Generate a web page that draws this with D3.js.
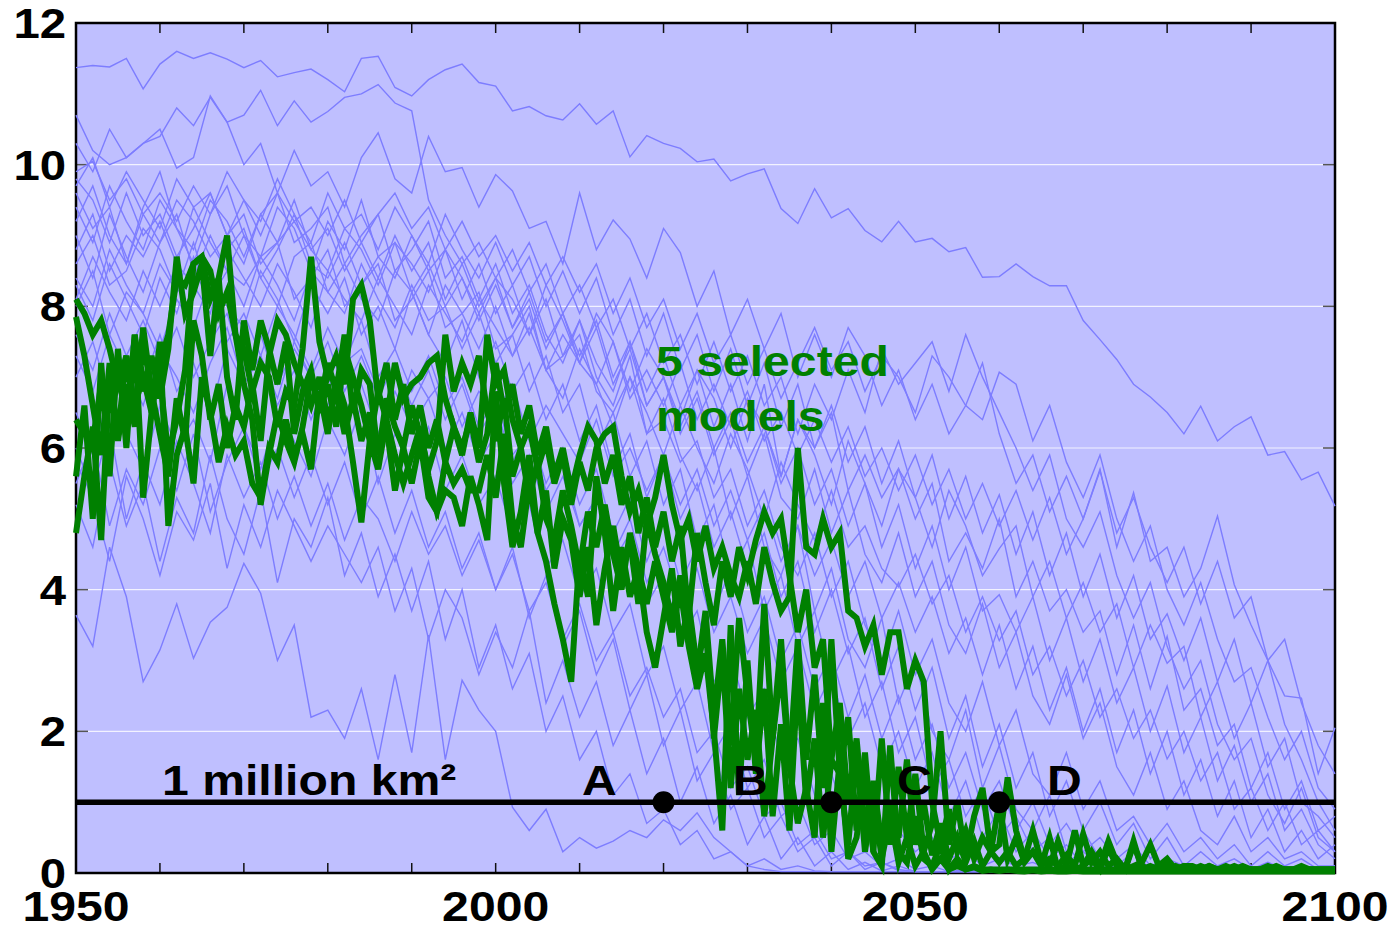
<!DOCTYPE html>
<html lang="en">
<head>
<meta charset="utf-8">
<title>September sea ice extent, model runs</title>
<script src="https://cdn.jsdelivr.net/npm/d3@7"></script>
<style>
  body { margin: 0; background: #ffffff; }
  svg text { font-family: "Liberation Sans", Arial, Helvetica, sans-serif; font-weight: bold; }
</style>
</head>
<body>
<svg id="chart" width="1396" height="927"></svg>
<script>
// years: blue runs every 2 years, green runs every year
var years2 = d3.range(1950, 2101, 2);
var years1 = d3.range(1950, 2101);

var xLabels = [1950, 2000, 2050, 2100];
var xMinor = d3.range(1950, 2101, 10);
var yTicks = [0, 2, 4, 6, 8, 10, 12];
var threshold = 1;
var markYears = [2020, 2040, 2060];
var markLetters = ["A", "B", "C", "D"];

// ---- all models (thin blue), values in million km2, 1950..2100 step 2 ----
var b00 = [11.37, 11.4, 11.38, 11.5, 11.07, 11.42, 11.6, 11.5, 11.58, 11.49,
  11.37, 11.47, 11.24, 11.3, 11.35, 11.2, 11.03, 11.5, 11.53, 11.09,
  10.97, 11.2, 11.34, 11.42, 11.16, 11.11, 10.76, 10.82, 10.69, 10.63,
  10.86, 10.57, 10.76, 10.11, 10.41, 10.3, 10.23, 10.04, 10.08, 9.77,
  9.87, 9.94, 9.38, 9.17, 9.66, 9.25, 9.38, 9.07, 8.91, 9.2,
  8.91, 8.96, 8.77, 8.83, 8.41, 8.42, 8.6, 8.42, 8.29, 8.29,
  7.8, 7.53, 7.25, 6.9, 6.72, 6.5, 6.2, 6.59, 6.1, 6.3,
  6.44, 5.9, 5.95, 5.55, 5.66, 5.18];
var b01 = [10.7, 10.2, 10.0, 10.1, 10.3, 10.4, 10.8, 10.55, 10.95, 10.6,
  10.7, 11.05, 10.55, 10.9, 10.6, 10.75, 10.95, 11.0, 11.13, 10.87,
  10.76, 9.5, 9.0, 8.6, 8.9, 8.4, 8.8, 8.2, 8.6, 7.9,
  8.3, 7.7, 8.1, 7.4, 7.9, 7.2, 7.6, 6.9, 7.5, 6.8,
  7.3, 6.6, 7.0, 6.2, 6.9, 6.4, 7.1, 6.5, 7.4, 6.9,
  7.2, 7.5, 6.8, 7.6, 7.0, 6.5, 6.0, 5.4, 5.9, 5.0,
  4.6, 5.1, 4.2, 3.6, 4.1, 3.2, 2.6, 3.0, 2.1, 1.6,
  1.9, 1.1, 0.7, 1.2, 0.5, 0.3];
var b02 = [10.3, 9.9, 10.5, 10.1, 10.3, 10.5, 9.95, 10.1, 10.97, 10.6,
  10.0, 10.3, 9.6, 10.2, 9.7, 9.9, 9.4, 10.1, 10.45, 9.8,
  9.6, 10.4, 9.9, 9.96, 9.4, 9.86, 9.63, 9.1, 9.2, 8.6,
  9.6, 8.8, 9.22, 8.95, 8.4, 9.1, 8.76, 8.0, 8.5, 7.6,
  8.1, 7.4, 7.9, 7.0, 7.6, 7.0, 7.7, 7.3, 6.6, 7.1,
  6.4, 6.9, 6.2, 6.6, 7.2, 6.2, 5.5, 5.9, 5.1, 5.6,
  5.0, 5.7, 4.6, 5.37, 4.4, 4.6, 3.9, 4.3, 5.04, 4.07,
  3.5, 3.0, 2.5, 2.47, 1.4, 2.05];
var b03 = [9.9, 10.05, 9.5, 9.8, 9.3, 9.6, 9.2, 9.7, 9.3, 9.9,
  9.5, 9.0, 9.6, 9.2, 9.4, 9.0, 9.5, 8.9, 9.3, 9.6,
  9.1, 9.4, 8.8, 9.2, 8.7, 9.0, 8.5, 8.9, 8.3, 8.7,
  8.2, 8.6, 7.9, 8.4, 7.7, 8.1, 7.4, 7.9, 7.2, 7.6,
  6.9, 7.4, 6.7, 7.2, 7.7, 7.1, 7.5, 6.8, 7.3, 7.0,
  6.5, 7.3, 7.0, 6.6, 6.4, 7.07, 6.9, 6.1, 6.6, 5.8,
  5.3, 5.9, 5.0, 4.4, 4.9, 4.0, 3.5, 4.1, 3.3, 2.7,
  2.9, 2.2, 1.6, 2.0, 1.2, 0.9];
var b04 = [9.6, 9.1, 9.4, 8.6, 9.3, 8.9, 9.5, 9.2, 8.7, 9.0,
  9.3, 8.6, 8.9, 9.2, 8.8, 8.5, 9.1, 8.8, 8.3, 8.9,
  8.6, 8.2, 8.8, 8.4, 7.9, 8.4, 8.1, 7.6, 8.3, 7.8,
  7.2, 7.9, 7.5, 6.8, 7.4, 7.0, 6.4, 7.1, 6.7, 6.0,
  6.7, 6.3, 5.6, 6.4, 5.9, 5.2, 6.1, 5.5, 4.9, 5.7,
  5.3, 4.6, 5.4, 4.9, 4.2, 4.58, 4.9, 3.9, 4.4, 3.6,
  4.1, 3.4, 3.8, 2.9, 3.5, 2.96, 3.2, 2.2, 2.7, 1.9,
  2.4, 1.5, 1.9, 1.0, 0.8, 0.5];
var b05 = [9.8, 9.5, 8.9, 9.6, 9.0, 9.3, 8.7, 9.1, 9.6, 9.0,
  8.6, 9.3, 8.9, 9.5, 8.8, 9.1, 8.5, 8.9, 8.4, 9.0,
  8.5, 8.9, 8.1, 8.6, 8.0, 8.4, 7.7, 8.2, 7.5, 7.9,
  7.2, 7.7, 6.9, 7.4, 6.6, 7.0, 6.3, 6.8, 6.0, 6.5,
  5.8, 6.3, 5.5, 6.0, 5.2, 5.7, 4.9, 5.5, 4.6, 5.2,
  4.3, 4.9, 4.0, 4.6, 3.7, 3.93, 3.4, 3.9, 3.0, 3.6,
  2.7, 3.3, 2.4, 2.9, 2.0, 2.64, 1.7, 2.2, 1.3, 1.8,
  1.0, 1.4, 0.6, 0.9, 0.4, 0.2];
var b06 = [9.0, 8.4, 9.3, 8.7, 8.2, 8.9, 9.3, 8.5, 8.1, 8.8,
  9.1, 8.4, 8.0, 8.7, 8.9, 8.2, 8.6, 8.1, 7.8, 8.5,
  8.2, 7.6, 8.3, 7.9, 7.4, 8.0, 7.3, 7.7, 7.1, 6.7,
  7.4, 6.9, 6.3, 7.0, 6.5, 5.9, 6.6, 6.0, 5.5, 6.2,
  5.7, 5.0, 5.8, 5.2, 4.7, 5.4, 4.6, 4.9, 4.3, 4.04,
  4.5, 3.8, 4.2, 3.4, 3.9, 3.28, 3.7, 2.8, 3.2, 2.5,
  3.0, 2.2, 2.6, 1.9, 2.3, 1.61, 2.0, 1.3, 1.7, 0.9,
  1.2, 0.6, 1.0, 0.4, 0.6, 0.3];
var b07 = [8.6, 9.0, 8.3, 8.5, 9.1, 8.8, 8.2, 8.4, 9.0, 8.5,
  8.3, 8.7, 8.9, 8.1, 8.4, 8.8, 8.0, 8.3, 8.6, 7.8,
  8.1, 8.5, 7.7, 7.9, 8.2, 7.4, 7.6, 8.0, 7.1, 7.3,
  7.6, 6.8, 6.5, 7.0, 6.2, 6.4, 5.8, 6.1, 5.3, 5.7,
  4.9, 5.4, 4.6, 4.2, 4.8, 3.9, 4.4, 3.5, 3.0, 3.7,
  2.8, 3.3, 2.4, 2.0, 2.7, 1.8, 2.3, 1.4, 1.1, 1.7,
  0.9, 1.3, 0.6, 0.8, 0.4, 0.7, 0.3, 0.5, 0.2, 0.4,
  0.1, 0.3, 0.1, 0.2, 0.05, 0.1];
var b08 = [8.3, 7.8, 8.6, 8.1, 7.6, 8.4, 7.9, 8.7, 8.2, 8.0,
  7.7, 8.5, 8.1, 7.5, 8.3, 7.9, 8.4, 7.6, 8.0, 7.4,
  8.2, 7.6, 7.2, 7.8, 7.0, 7.5, 6.8, 7.2, 6.4, 6.9,
  6.1, 6.6, 5.7, 6.2, 5.3, 5.9, 5.0, 5.5, 4.6, 5.1,
  4.3, 4.8, 3.9, 4.4, 3.4, 4.0, 3.1, 3.6, 2.6, 3.2,
  2.3, 2.9, 1.9, 2.5, 1.5, 2.1, 1.2, 1.7, 0.8, 1.3,
  0.6, 1.0, 0.4, 0.7, 0.2, 0.5, 0.1, 0.3, 0.1, 0.2,
  0.05, 0.15, 0.05, 0.1, 0.05, 0.05];
var b09 = [8.0, 8.5, 7.6, 8.2, 7.9, 7.4, 8.1, 7.7, 8.4, 7.5,
  7.9, 7.3, 8.0, 7.6, 7.1, 7.7, 7.2, 7.8, 7.0, 7.4,
  6.8, 7.3, 6.6, 7.0, 6.3, 6.7, 5.9, 6.2, 5.4, 5.8,
  4.9, 5.3, 4.4, 4.8, 3.8, 4.2, 3.3, 3.7, 2.7, 3.1,
  2.2, 2.6, 1.6, 1.9, 1.1, 1.4, 0.7, 0.9, 0.4, 0.6,
  0.3, 0.5, 0.2, 0.3, 0.1, 0.2, 0.1, 0.15, 0.05, 0.1,
  0.05, 0.1, 0.05, 0.05, 0.02, 0.05, 0.02, 0.03, 0.02, 0.02,
  0.02, 0.02, 0.01, 0.02, 0.01, 0.01];
var b10 = [7.6, 7.1, 7.9, 7.3, 7.8, 7.2, 7.7, 7.0, 7.5, 7.9,
  7.1, 7.6, 6.9, 7.4, 7.0, 7.5, 6.8, 7.3, 6.7, 7.2,
  6.6, 7.1, 6.4, 6.9, 6.2, 6.6, 5.8, 6.3, 5.5, 6.0,
  5.2, 5.7, 4.8, 5.3, 4.4, 5.0, 4.1, 4.6, 3.7, 4.3,
  3.4, 3.9, 3.0, 3.5, 2.6, 3.1, 2.2, 2.8, 1.9, 2.5,
  1.6, 2.1, 1.2, 1.7, 0.9, 1.3, 0.6, 1.0, 0.4, 0.7,
  0.3, 0.5, 0.2, 0.4, 0.1, 0.2, 0.1, 0.1, 0.05, 0.1,
  0.05, 0.05, 0.02, 0.05, 0.02, 0.02];
var b11 = [6.5, 5.9, 6.8, 6.2, 5.7, 6.6, 6.0, 6.4, 5.8, 6.9,
  6.3, 5.7, 6.5, 6.1, 5.6, 6.4, 5.9, 6.6, 5.5, 6.2,
  5.8, 6.3, 5.4, 5.9, 5.2, 5.6, 4.8, 5.2, 4.3, 4.7,
  3.9, 4.3, 3.4, 3.8, 2.8, 3.2, 2.3, 2.7, 1.7, 2.1,
  1.2, 1.6, 0.8, 1.0, 0.4, 0.6, 0.2, 0.3, 0.1, 0.2,
  0.05, 0.1, 0.02, 0.05, 0.02, 0.02, 0.03, 0.01, 0.02, 0.01,
  0.01, 0.01, 0.01, 0.01, 0.01, 0.01, 0.01, 0.01, 0.01, 0.01,
  0.01, 0.01, 0.01, 0.01, 0.01, 0.01];
var b12 = [3.64, 3.2, 4.6, 3.9, 2.7, 3.15, 3.8, 3.03, 3.54, 3.75,
  4.37, 3.95, 3.0, 3.5, 2.2, 2.3, 1.9, 2.6, 1.6, 2.8,
  1.7, 3.36, 1.6, 2.72, 2.3, 2.0, 0.93, 0.6, 0.9, 0.3,
  0.5, 0.35, 0.45, 0.6, 0.5, 0.75, 0.6, 0.85, 0.5, 0.3,
  0.1, 0.05, 0.02, 0.02, 0.02, 0.02, 0.02, 0.02, 0.02, 0.02,
  0.02, 0.02, 0.02, 0.02, 0.02, 0.02, 0.02, 0.02, 0.02, 0.02,
  0.02, 0.02, 0.02, 0.02, 0.02, 0.02, 0.02, 0.02, 0.02, 0.02,
  0.02, 0.02, 0.02, 0.02, 0.02, 0.02];
var b13 = [5.2, 4.6, 5.8, 4.9, 5.5, 4.4, 5.3, 4.8, 5.9, 5.0,
  4.5, 5.4, 4.1, 5.0, 4.6, 5.3, 4.2, 4.8, 3.9, 4.5,
  3.7, 4.4, 3.3, 4.0, 2.9, 3.5, 2.6, 3.1, 2.0, 2.5,
  1.6, 2.0, 1.1, 1.4, 0.7, 0.9, 0.4, 0.6, 0.2, 0.3,
  0.1, 0.2, 0.05, 0.1, 0.03, 0.02, 0.02, 0.02, 0.02, 0.02,
  0.02, 0.02, 0.02, 0.02, 0.02, 0.02, 0.02, 0.02, 0.02, 0.02,
  0.02, 0.02, 0.02, 0.02, 0.02, 0.02, 0.02, 0.02, 0.02, 0.02,
  0.02, 0.02, 0.02, 0.02, 0.02, 0.02];
var b14 = [5.8, 5.3, 4.4, 5.6, 5.0, 4.2, 5.1, 4.7, 5.5, 4.3,
  5.2, 4.6, 5.4, 4.9, 4.4, 4.9, 4.5, 4.1, 4.6, 3.7,
  4.3, 3.3, 4.0, 3.6, 2.8, 3.4, 2.9, 3.7, 2.4, 3.0,
  2.2, 2.7, 1.8, 2.3, 1.4, 1.9, 1.0, 1.5, 0.7, 1.1,
  0.4, 0.8, 0.2, 0.5, 0.1, 0.3, 0.05, 0.15, 0.03, 0.1,
  0.02, 0.02, 0.02, 0.02, 0.02, 0.02, 0.02, 0.02, 0.02, 0.02,
  0.02, 0.02, 0.02, 0.02, 0.02, 0.02, 0.02, 0.02, 0.02, 0.02,
  0.02, 0.02, 0.02, 0.02, 0.02, 0.02];
var b15 = [7.0, 7.5, 6.7, 7.3, 6.9, 7.6, 6.8, 7.2, 6.5, 7.4,
  6.9, 7.3, 6.6, 7.1, 6.4, 7.0, 6.5, 6.9, 6.2, 6.8,
  6.3, 6.7, 6.0, 6.5, 5.8, 6.2, 5.5, 5.9, 5.1, 5.6,
  4.9, 5.3, 4.5, 5.0, 4.1, 4.6, 3.8, 4.3, 3.4, 3.9,
  3.1, 3.6, 2.7, 3.2, 2.3, 2.8, 1.9, 2.4, 1.5, 2.0,
  1.2, 1.7, 0.8, 1.3, 0.5, 0.9, 0.3, 0.6, 0.2, 0.4,
  0.1, 0.2, 0.05, 0.1, 0.03, 0.02, 0.02, 0.02, 0.02, 0.02,
  0.02, 0.02, 0.02, 0.02, 0.02, 0.02];
var b16 = [8.8, 9.3, 8.5, 9.0, 8.7, 9.2, 8.6, 9.4, 8.9, 8.5,
  9.0, 8.4, 8.8, 9.3, 8.6, 8.4, 8.9, 8.3, 8.7, 8.9,
  8.2, 8.6, 8.0, 8.4, 7.8, 8.3, 7.7, 8.1, 7.4, 7.9,
  7.3, 7.8, 7.0, 7.5, 6.8, 7.3, 6.6, 7.1, 6.3, 6.9,
  6.1, 6.9, 5.6, 6.4, 6.0, 6.5, 5.4, 5.9, 5.3, 5.71,
  5.0, 5.5, 4.4, 4.8, 4.3, 5.0, 3.9, 4.4, 3.7, 4.0,
  3.4, 3.7, 2.8, 3.5, 2.6, 3.34, 2.3, 2.6, 1.8, 2.1,
  1.2, 1.7, 0.9, 1.3, 0.6, 0.8];
var b17 = [9.4, 8.9, 9.7, 9.2, 8.8, 9.5, 9.1, 8.6, 9.3, 9.7,
  9.0, 8.7, 9.4, 9.1, 8.5, 9.2, 8.8, 9.5, 8.7, 8.4,
  9.0, 8.5, 8.8, 8.1, 8.6, 7.9, 8.3, 7.6, 8.1, 7.3,
  7.8, 7.2, 6.8, 7.5, 6.6, 7.0, 6.2, 6.7, 5.9, 6.4,
  5.6, 6.2, 5.3, 5.0, 5.7, 4.8, 5.4, 4.5, 4.1, 4.8,
  3.9, 4.4, 3.5, 3.1, 3.8, 2.9, 3.4, 2.5, 2.1, 2.8,
  1.9, 2.4, 1.5, 1.1, 1.7, 0.9, 1.3, 0.6, 0.4, 0.8,
  0.3, 0.5, 0.2, 0.3, 0.1, 0.1];
var b18 = [8.1, 8.7, 8.2, 7.8, 8.5, 8.0, 8.6, 8.3, 7.9, 8.8,
  8.4, 8.0, 8.6, 8.2, 7.7, 8.5, 8.1, 7.8, 8.4, 8.0,
  7.6, 8.3, 7.9, 7.5, 8.1, 7.7, 7.3, 7.9, 7.1, 7.6,
  7.2, 6.9, 7.5, 6.7, 7.1, 6.6, 7.2, 6.4, 6.9, 6.3,
  6.8, 6.1, 6.5, 5.9, 6.4, 5.8, 6.3, 5.6, 6.0, 5.4,
  5.9, 5.2, 5.7, 5.0, 5.5, 4.9, 5.4, 4.7, 5.3, 4.5,
  5.0, 5.68, 4.8, 5.3, 4.6, 4.1, 4.6, 3.8, 4.4, 3.6,
  3.9, 3.0, 3.3, 2.4, 1.8, 1.4];
var b19 = [9.2, 9.7, 9.0, 8.6, 9.4, 9.9, 9.1, 8.8, 9.5, 9.2,
  8.7, 9.3, 9.6, 8.9, 9.1, 9.4, 8.6, 9.0, 9.3, 8.5,
  8.8, 9.2, 8.4, 8.7, 8.1, 8.6, 7.9, 8.3, 7.6, 7.2,
  7.8, 7.0, 6.6, 7.3, 6.2, 6.7, 5.9, 5.4, 6.0, 5.0,
  5.6, 4.6, 4.2, 4.9, 3.7, 4.3, 3.3, 2.9, 3.6, 2.4,
  3.0, 2.0, 1.6, 2.3, 1.2, 1.8, 0.9, 0.6, 1.1, 0.3,
  0.6, 0.2, 0.1, 0.3, 0.05, 0.1, 0.05, 0.02, 0.05, 0.02,
  0.02, 0.02, 0.01, 0.02, 0.01, 0.01];
var b20 = [6.0, 5.4, 6.3, 5.0, 5.8, 5.2, 6.1, 5.5, 4.8, 5.9,
  5.3, 5.8, 5.0, 5.6, 4.9, 5.5, 4.7, 5.3, 5.0, 4.4,
  5.1, 4.5, 4.9, 4.2, 4.7, 4.0, 4.5, 3.7, 4.1, 3.3,
  3.8, 3.0, 3.4, 2.5, 2.9, 2.2, 2.6, 1.7, 2.0, 1.2,
  1.5, 0.8, 1.0, 0.4, 0.6, 0.2, 0.3, 0.1, 0.15, 0.05,
  0.02, 0.02, 0.02, 0.02, 0.02, 0.02, 0.02, 0.02, 0.02, 0.02,
  0.02, 0.02, 0.02, 0.02, 0.02, 0.02, 0.02, 0.02, 0.02, 0.02,
  0.02, 0.02, 0.02, 0.02, 0.02, 0.02];
var b21 = [7.3, 6.8, 7.6, 7.1, 6.6, 7.4, 7.0, 6.5, 7.2, 7.7,
  6.9, 7.3, 6.7, 7.5, 7.0, 6.6, 7.2, 7.4, 6.8, 6.4,
  7.1, 6.7, 7.0, 6.3, 6.8, 6.5, 6.9, 6.1, 6.6, 6.2,
  5.8, 6.4, 5.6, 6.0, 5.4, 5.9, 5.2, 5.7, 4.9, 5.4,
  4.7, 5.2, 4.4, 4.9, 4.2, 4.7, 3.9, 4.4, 3.6, 4.1,
  3.4, 3.9, 3.1, 3.6, 2.8, 3.5, 2.6, 3.2, 2.3, 2.9,
  2.0, 2.6, 1.7, 2.3, 1.4, 2.0, 1.1, 1.6, 0.8, 1.3,
  0.5, 0.9, 0.3, 0.6, 0.2, 0.4];
var b22 = [8.4, 8.0, 8.8, 8.3, 7.9, 8.6, 8.2, 8.9, 8.1, 8.5,
  8.0, 8.7, 8.3, 7.8, 8.5, 8.2, 7.9, 8.6, 8.1, 7.7,
  8.3, 7.8, 8.0, 7.4, 7.9, 7.2, 7.6, 6.8, 7.3, 6.5,
  6.9, 6.0, 6.5, 5.6, 6.1, 5.2, 5.7, 4.7, 5.2, 4.2,
  4.7, 3.7, 4.2, 3.2, 3.7, 2.7, 3.2, 2.2, 2.7, 1.7,
  2.2, 1.2, 1.6, 0.8, 1.2, 0.5, 0.8, 0.3, 0.5, 0.15,
  0.3, 0.1, 0.2, 0.05, 0.1, 0.02, 0.02, 0.02, 0.02, 0.02,
  0.02, 0.02, 0.02, 0.02, 0.02, 0.02];
var b23 = [9.7, 10.1, 9.4, 9.9, 9.5, 9.1, 9.8, 9.4, 9.6, 9.0,
  9.5, 9.2, 9.8, 9.3, 8.9, 9.6, 9.1, 9.3, 8.8, 9.4,
  9.0, 8.6, 9.3, 8.8, 8.4, 8.9, 8.3, 8.7, 8.0, 8.5,
  7.9, 8.4, 7.6, 8.1, 7.3, 7.9, 7.1, 7.6, 6.8, 7.4,
  6.6, 7.2, 6.3, 6.9, 6.0, 6.6, 5.8, 6.3, 5.5, 6.1,
  5.3, 5.9, 5.0, 5.6, 4.8, 5.34, 4.5, 5.1, 4.2, 4.8,
  3.9, 4.5, 3.6, 4.2, 3.3, 3.66, 3.0, 3.6, 2.7, 3.3,
  2.4, 3.0, 2.1, 1.6, 1.0, 0.6];
var b24 = [5.5, 6.1, 4.9, 5.7, 5.2, 6.0, 5.4, 6.2, 5.1, 5.8,
  6.3, 5.5, 6.0, 5.3, 5.9, 5.2, 5.8, 5.0, 5.6, 4.8,
  5.4, 4.6, 5.1, 4.3, 4.8, 4.0, 4.6, 3.6, 4.2, 3.2,
  3.7, 2.8, 3.3, 2.3, 2.8, 1.8, 2.3, 1.3, 1.7, 0.9,
  1.2, 0.5, 0.8, 0.3, 0.5, 0.1, 0.3, 0.05, 0.15, 0.03,
  0.02, 0.02, 0.02, 0.02, 0.02, 0.02, 0.02, 0.02, 0.02, 0.02,
  0.02, 0.02, 0.02, 0.02, 0.02, 0.02, 0.02, 0.02, 0.02, 0.02,
  0.02, 0.02, 0.02, 0.02, 0.02, 0.02];

var blueRuns = [b00, b01, b02, b03, b04, b05, b06, b07, b08, b09, b10, b11, b12,
  b13, b14, b15, b16, b17, b18, b19, b20, b21, b22, b23, b24];

// ---- 5 selected models (thick green), 1950..2100 every year ----
var g1 = [8.1, 7.9, 7.6, 7.8, 7.4, 6.9, 7.3, 6.6, 7.0, 6.5,
  7.2, 7.6, 8.4, 8.3, 8.6, 8.7, 8.5, 7.9, 8.2, 7.6,
  7.4, 6.8, 7.2, 7.0, 6.3, 6.8, 6.6, 7.4, 8.7, 7.5,
  7.0, 7.3, 6.9, 8.1, 8.3, 7.8, 6.7, 7.2, 6.4, 6.9,
  6.2, 6.6, 6.0, 6.4, 5.8, 6.3, 5.9, 6.5, 6.0, 7.6,
  6.9, 7.1, 6.4, 6.0, 6.3, 5.7, 6.1, 5.5, 5.9, 5.2,
  5.8, 5.4, 6.0, 6.2, 6.3, 5.6, 5.1, 5.4, 4.9, 5.3,
  5.9, 5.2, 4.7, 5.0, 4.4, 4.9, 4.3, 4.6, 4.2, 3.9,
  4.4, 3.8, 4.6, 4.1, 3.7, 3.9, 6.0, 4.6, 4.5, 5.0,
  4.6, 4.8, 3.7, 3.6, 3.2, 3.5, 2.8, 3.4, 3.4, 2.6,
  3.0, 2.7, 1.0, 0.4, 0.9, 0.3, 0.6, 0.2, 0.5, 0.3,
  0.4, 1.35, 0.6, 0.2, 0.3, 0.15, 0.2, 0.1, 0.25, 0.1,
  0.55, 0.15, 0.3, 0.1, 0.2, 0.05, 0.1, 0.15, 0.4, 0.1,
  0.2, 0.05, 0.1, 0.1, 0.05, 0.1, 0.05, 0.05, 0.1, 0.05,
  0.05, 0.05, 0.1, 0.05, 0.05, 0.05, 0.1, 0.05, 0.05, 0.05,
  0.05];
var g2 = [7.85, 7.3, 6.6, 5.9, 7.2, 6.1, 6.9, 6.3, 7.5, 6.8,
  6.2, 5.6, 6.7, 6.1, 7.8, 7.3, 6.4, 6.9, 6.0, 6.6,
  6.3, 6.9, 6.1, 7.3, 7.8, 7.6, 7.2, 6.9, 6.6, 7.0,
  6.4, 6.8, 6.2, 6.7, 6.1, 6.5, 5.9, 6.7, 6.3, 6.0,
  6.6, 6.2, 5.7, 6.1, 7.6, 6.8, 7.2, 6.9, 7.3, 6.5,
  6.1, 6.7, 5.6, 6.0, 5.3, 5.8, 5.0, 4.7, 5.4, 4.9,
  4.3, 5.1, 4.6, 5.2, 4.5, 4.0, 4.8, 4.3, 3.8, 4.4,
  3.9, 3.4, 4.0, 3.2, 2.6, 3.1, 2.0, 0.6, 3.5, 1.1,
  3.0, 1.4, 2.6, 0.8, 2.1, 0.6, 2.8, 1.0, 1.9, 0.5,
  1.6, 1.4, 0.4, 1.7, 0.3, 1.1, 0.2, 0.8, 0.15, 0.5,
  0.1, 0.3, 0.05, 0.2, 0.05, 0.1, 0.05, 0.08, 0.03, 0.05,
  0.03, 0.05, 0.03, 0.02, 0.04, 0.02, 0.03, 0.02, 0.02, 0.03,
  0.02, 0.02, 0.02, 0.02, 0.02, 0.02, 0.02, 0.02, 0.02, 0.02,
  0.02, 0.02, 0.02, 0.02, 0.02, 0.02, 0.02, 0.02, 0.02, 0.02,
  0.02, 0.02, 0.02, 0.02, 0.02, 0.02, 0.02, 0.02, 0.02, 0.02,
  0.02];
var g3 = [6.4, 6.2, 6.1, 6.9, 6.5, 7.2, 6.3, 7.6, 6.8, 7.3,
  6.7, 7.4, 8.7, 7.9, 8.2, 8.6, 7.3, 8.4, 7.0, 6.4,
  7.8, 7.1, 7.8, 7.4, 6.9, 7.5, 6.2, 6.8, 7.1, 6.5,
  6.9, 6.3, 7.4, 7.0, 6.6, 6.1, 6.8, 6.4, 7.2, 6.7,
  6.9, 7.0, 7.2, 7.3, 6.7, 6.3, 6.0, 6.4, 5.8, 6.2,
  7.2, 6.5, 6.9, 6.2, 6.6, 5.9, 6.3, 5.6, 6.0, 5.4,
  5.9, 6.3, 6.1, 5.5, 5.9, 5.2, 5.6, 4.8, 5.3, 4.6,
  5.1, 4.4, 4.9, 3.6, 4.8, 4.1, 3.5, 4.4, 3.9, 4.6,
  4.2, 4.7, 5.1, 4.8, 5.0, 4.2, 3.4, 4.0, 2.9, 3.3,
  1.6, 2.4, 1.0, 1.9, 0.6, 1.3, 0.4, 1.0, 0.5, 1.6,
  0.4, 1.0, 0.25, 0.7, 0.2, 0.5, 0.15, 0.45, 0.1, 0.3,
  0.15, 0.3, 0.1, 0.2, 0.6, 0.15, 0.1, 0.45, 0.1, 0.05,
  0.1, 0.3, 0.1, 0.45, 0.15, 0.05, 0.4, 0.1, 0.05, 0.1,
  0.05, 0.1, 0.05, 0.05, 0.1, 0.05, 0.05, 0.1, 0.05, 0.05,
  0.05, 0.05, 0.05, 0.05, 0.05, 0.05, 0.05, 0.05, 0.05, 0.05,
  0.05];
var g4 = [5.6, 6.6, 5.0, 7.2, 5.6, 7.4, 6.0, 7.6, 5.3, 6.5,
  7.5, 4.9, 5.9, 6.3, 5.5, 7.0, 6.5, 5.8, 6.3, 5.9,
  6.1, 5.5, 5.3, 6.0, 5.8, 6.4, 5.9, 6.2, 5.7, 6.8,
  6.2, 7.0, 6.6, 5.8, 4.95, 6.1, 5.7, 6.4, 5.9, 5.5,
  5.9, 6.3, 5.6, 5.1, 5.4, 5.3, 4.9, 5.6, 5.2, 4.7,
  6.8, 5.5, 4.6, 5.1, 5.9, 4.8, 4.4, 3.8, 3.3, 2.7,
  4.5, 3.9, 5.6, 4.8, 3.7, 4.6, 3.9, 4.3, 3.4, 2.9,
  3.6, 4.3, 3.2, 3.8, 2.9, 3.5, 1.9, 3.1, 1.2, 2.6,
  1.6, 2.3, 0.8, 1.9, 3.3, 1.5, 0.7, 1.2, 0.5, 2.4,
  0.3, 1.6, 0.2, 0.5, 1.4, 0.3, 0.1, 1.8, 0.3, 0.15,
  0.8, 0.2, 0.1, 0.4, 0.05, 0.2, 0.05, 0.1, 0.05, 0.05,
  0.05, 0.05, 0.05, 0.05, 0.05, 0.05, 0.05, 0.05, 0.05, 0.05,
  0.05, 0.05, 0.05, 0.05, 0.05, 0.05, 0.05, 0.05, 0.05, 0.05,
  0.05, 0.05, 0.05, 0.05, 0.05, 0.05, 0.05, 0.05, 0.05, 0.05,
  0.05, 0.05, 0.05, 0.05, 0.05, 0.05, 0.05, 0.05, 0.05, 0.05,
  0.05];
var g5 = [4.8, 5.6, 6.3, 4.7, 7.0, 6.2, 7.3, 6.4, 7.7, 6.8,
  7.0, 5.9, 6.4, 7.1, 8.6, 8.7, 8.1, 8.4, 9.0, 7.6,
  6.9, 6.4, 5.2, 5.9, 6.5, 6.1, 5.8, 6.3, 7.0, 6.6,
  7.2, 6.8, 7.6, 6.5, 7.1, 6.9, 5.9, 6.3, 5.4, 6.0,
  5.5, 6.1, 5.3, 5.1, 5.8, 5.5, 5.7, 5.4, 5.4, 5.9,
  5.3, 6.2, 5.0, 4.6, 5.5, 4.8, 5.4, 4.3, 5.0, 4.7,
  3.9, 4.6, 3.5, 4.3, 4.9, 4.2, 4.7, 3.8, 5.0, 4.5,
  4.1, 3.6, 4.2, 3.3, 2.8, 3.7, 2.2, 3.3, 1.8, 3.6,
  2.5, 1.6, 3.8, 1.9, 2.9, 1.5, 3.3, 1.6, 2.8, 1.2,
  3.3, 1.4, 2.2, 0.6, 1.7, 0.3, 1.9, 0.4, 1.5, 0.5,
  1.4, 0.3, 0.7, 2.0, 0.4, 1.0, 0.2, 0.8, 1.2, 0.3,
  1.0, 0.2, 0.5, 0.15, 0.3, 0.1, 0.5, 0.05, 0.1, 0.6,
  0.1, 0.2, 0.05, 0.35, 0.1, 0.05, 0.45, 0.05, 0.1, 0.05,
  0.15, 0.05, 0.1, 0.05, 0.05, 0.1, 0.05, 0.05, 0.05, 0.1,
  0.05, 0.05, 0.05, 0.1, 0.05, 0.05, 0.05, 0.05, 0.05, 0.05,
  0.05];

var greenRuns = [g1, g2, g3, g4, g5];

// ---- layout ----
var svg = d3.select("#chart");
var plotL = 76, plotR = 1335, plotT = 23, plotB = 873;
var x = d3.scaleLinear().domain([1950, 2100]).range([plotL, plotR]);
var y = d3.scaleLinear().domain([0, 12]).range([plotB, plotT]);

svg.append("rect").attr("x", plotL).attr("y", plotT)
  .attr("width", plotR - plotL).attr("height", plotB - plotT)
  .attr("fill", "#bfbfff");

// grid
svg.append("g").selectAll("line")
  .data(yTicks.filter(function (d) { return d > 0 && d < 12; }))
  .enter().append("line")
  .attr("x1", plotL).attr("x2", plotR)
  .attr("y1", function (d) { return y(d); }).attr("y2", function (d) { return y(d); })
  .attr("stroke", "#ffffff").attr("stroke-opacity", 0.8).attr("stroke-width", 1.2);

// ticks (inward)
var tk = svg.append("g");
xMinor.forEach(function (v) {
  tk.append("line").attr("x1", x(v)).attr("x2", x(v)).attr("y1", plotB).attr("y2", plotB - 10)
    .attr("stroke", "#111").attr("stroke-width", 1.5);
  tk.append("line").attr("x1", x(v)).attr("x2", x(v)).attr("y1", plotT).attr("y2", plotT + 10)
    .attr("stroke", "#111").attr("stroke-width", 1.5);
});
yTicks.forEach(function (v) {
  tk.append("line").attr("x1", plotL).attr("x2", plotL + 12).attr("y1", y(v)).attr("y2", y(v))
    .attr("stroke", "#555").attr("stroke-width", 1.5);
  tk.append("line").attr("x1", plotR - 12).attr("x2", plotR).attr("y1", y(v)).attr("y2", y(v))
    .attr("stroke", "#555").attr("stroke-width", 1.5);
});

svg.append("rect").attr("x", plotL).attr("y", plotT)
  .attr("width", plotR - plotL).attr("height", plotB - plotT)
  .attr("fill", "none").attr("stroke", "#000").attr("stroke-width", 2.5);

// tick labels
svg.append("g").selectAll("text").data(yTicks).enter().append("text")
  .attr("transform", function (d) { return "translate(66," + (y(d) + 15) + ") scale(1.1,1)"; })
  .attr("text-anchor", "end").attr("font-size", 43).attr("fill", "#000")
  .text(function (d) { return d; });
svg.append("g").selectAll("text").data(xLabels).enter().append("text")
  .attr("transform", function (d) { return "translate(" + x(d) + ",921) scale(1.12,1)"; })
  .attr("text-anchor", "middle").attr("font-size", 43).attr("fill", "#000")
  .text(function (d) { return d; });

// model runs
var line2 = d3.line()
  .x(function (d, i) { return x(years2[i]); })
  .y(function (d) { return y(d); });
var line1 = d3.line()
  .x(function (d, i) { return x(years1[i]); })
  .y(function (d) { return y(d); });

svg.append("g").selectAll("path").data(blueRuns).enter().append("path")
  .attr("d", line2).attr("fill", "none")
  .attr("stroke", "#7d7dff").attr("stroke-width", 1.4).attr("stroke-linejoin", "miter");

svg.append("g").selectAll("path").data(greenRuns).enter().append("path")
  .attr("d", line1).attr("fill", "none")
  .attr("stroke", "#008000").attr("stroke-width", 6).attr("stroke-linejoin", "miter");

// 1 million km2 line and markers
svg.append("line").attr("x1", plotL).attr("x2", plotR)
  .attr("y1", y(threshold)).attr("y2", y(threshold))
  .attr("stroke", "#000").attr("stroke-width", 5.5);
svg.append("g").selectAll("circle").data(markYears).enter().append("circle")
  .attr("cx", function (d) { return x(d); }).attr("cy", y(threshold))
  .attr("r", 11).attr("fill", "#000");

// labels
function label(txt, px, py, color) {
  svg.append("text").attr("transform", "translate(" + px + "," + py + ") scale(1.12,1)")
    .attr("font-size", 43).attr("fill", color).text(txt);
}
label("1 million km²", 162, 795, "#000");
var letterX = [582, 733, 897, 1047];
markLetters.forEach(function (l, i) { label(l, letterX[i], 795, "#000"); });
label("5 selected", 656, 376, "#008000");
label("models", 656, 431, "#008000");
</script>
</body>
</html>
